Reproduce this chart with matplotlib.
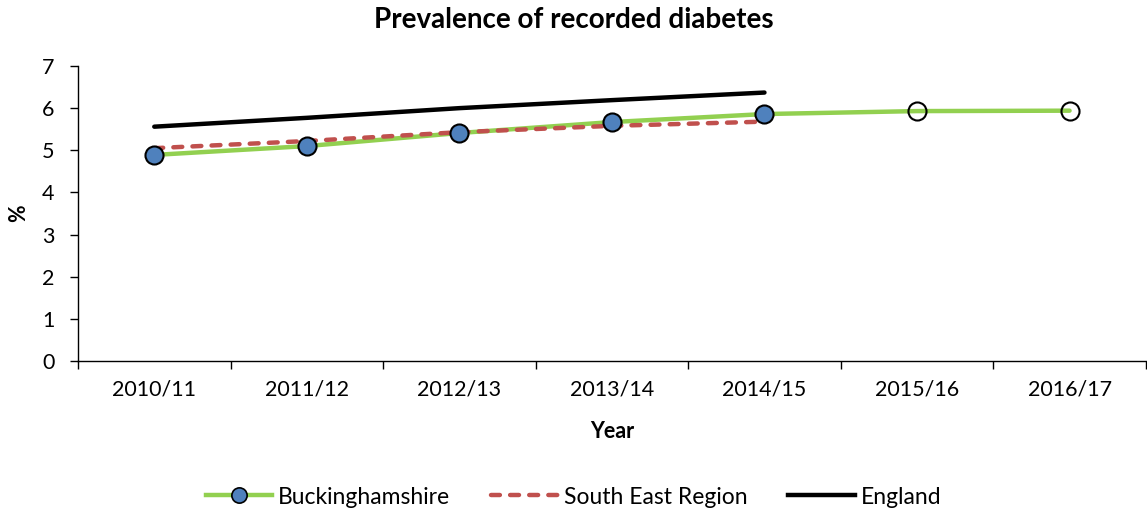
import matplotlib
matplotlib.use("Agg")
import matplotlib.pyplot as plt
from matplotlib.lines import Line2D

plt.rcParams['font.family'] = ['Lato', 'DejaVu Sans']

years = ["2010/11", "2011/12", "2012/13", "2013/14", "2014/15", "2015/16", "2016/17"]
bucks = [4.89, 5.10, 5.41, 5.67, 5.86, 5.93, 5.94]
south_east = [5.05, 5.22, 5.43, 5.58, 5.68]
england = [5.56, 5.77, 6.00, 6.19, 6.37]
n_actual = 5  # years with recorded (filled) values; later ones are projections

fig = plt.figure(figsize=(11.47, 5.12), dpi=100)
ax = fig.add_axes([78 / 1147, 1 - 361 / 512, 1 - 78 / 1147 - 0.001, (361 - 66) / 512])

x = list(range(len(years)))
green = "#92D050"
blue = "#4F81BD"
red = "#C0504D"
dash = (0, (2.0, 2.3))

ax.plot(x, bucks, color=green, lw=3.2, zorder=2, solid_capstyle='round')
ax.plot(x[:len(south_east)], south_east, color=red, lw=3.2, ls=dash,
        zorder=3, dash_capstyle='round')
ax.plot(x[:len(england)], england, color="black", lw=3.2, zorder=3, solid_capstyle='round')
ax.plot(x[:n_actual], bucks[:n_actual], ls='none', marker='o', ms=13,
        mfc=blue, mec='black', mew=1.5, zorder=4)
ax.plot(x[n_actual:], bucks[n_actual:], ls='none', marker='o', ms=13,
        mfc='none', mec='black', mew=1.5, zorder=4)

ax.set_xlim(-0.5, len(years) - 0.5)
ax.set_ylim(0, 7)
ax.set_yticks(range(0, 8))
ax.set_xticks(x)
ax.set_xticklabels(years)
ax.set_xticks([i - 0.5 for i in range(len(years) + 1)], minor=True)
ax.tick_params(axis='x', which='major', length=0, pad=13, labelsize=15.5)
ax.tick_params(axis='x', which='minor', length=6, width=1, direction='out')
ax.tick_params(axis='y', length=6, width=1, direction='out', labelsize=15.5, pad=11)

for s in ['top', 'right']:
    ax.spines[s].set_visible(False)
for s in ['left', 'bottom']:
    ax.spines[s].set_linewidth(1)

ax.set_xlabel("Year", fontsize=15.5, fontweight='bold', labelpad=16)
ax.set_ylabel("%", fontsize=15.5, fontweight='bold', labelpad=9)
fig.text(0.5, 1 - 20 / 512, "Prevalence of recorded diabetes", ha='center', va='center',
         fontsize=20, fontweight='bold')

handles = [
    Line2D([], [], color=green, lw=3.2, marker='o', ms=11, mfc=blue, mec='black', mew=1.2),
    Line2D([], [], color=red, lw=3.2, ls=dash, dash_capstyle='round'),
    Line2D([], [], color='black', lw=3.2),
]
fig.legend(handles, ["Buckinghamshire", "South East Region", "England"],
           loc='center', bbox_to_anchor=(0.5, 1 - 497 / 512), ncol=3, frameon=False,
           fontsize=16.5, handlelength=2.9, handletextpad=0.25, columnspacing=1.8)

fig.savefig("out.png", dpi=100)
